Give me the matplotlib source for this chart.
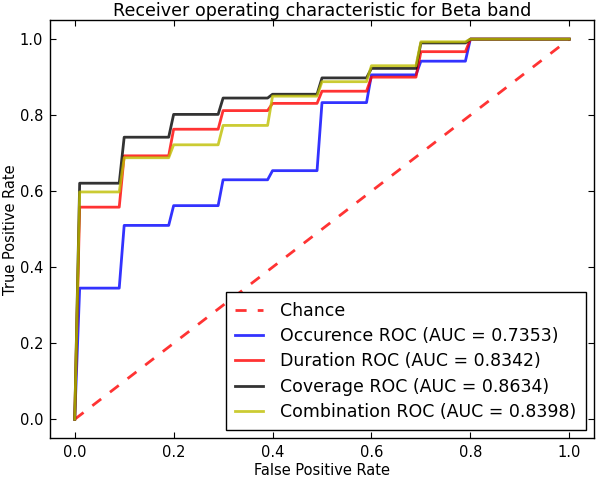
import matplotlib
matplotlib.use("Agg")
from matplotlib import pyplot as plt

# ROC points (fpr, tpr)
fpr = [0.0, 0.01, 0.09, 0.10, 0.19, 0.20, 0.29, 0.30, 0.39, 0.40,
       0.49, 0.50, 0.59, 0.60, 0.69, 0.70, 0.79, 0.80, 1.0]

tpr_occurence = [0.0, 0.345, 0.345, 0.51, 0.51, 0.562, 0.562, 0.63, 0.63, 0.654,
                 0.654, 0.833, 0.833, 0.906, 0.906, 0.942, 0.942, 1.0, 1.0]
tpr_duration = [0.0, 0.558, 0.558, 0.693, 0.693, 0.763, 0.763, 0.812, 0.812, 0.831,
                0.831, 0.863, 0.863, 0.90, 0.90, 0.967, 0.967, 1.0, 1.0]
tpr_coverage = [0.0, 0.621, 0.621, 0.742, 0.742, 0.802, 0.802, 0.845, 0.845, 0.855,
                0.855, 0.898, 0.898, 0.923, 0.923, 0.99, 0.99, 1.0, 1.0]
tpr_combination = [0.0, 0.598, 0.598, 0.688, 0.688, 0.722, 0.722, 0.773, 0.773, 0.85,
                   0.85, 0.888, 0.888, 0.93, 0.93, 0.993, 0.993, 1.0, 1.0]

auc_values = {"Occurence": 0.7353, "Duration": 0.8342,
              "Coverage": 0.8634, "Combination": 0.8398}

fig = plt.figure(figsize=(5.98, 4.79), dpi=100)
ax = fig.add_axes([0.0836, 0.0850, 0.9097, 0.8730])

ax.plot([0, 1], [0, 1], "--", color="r", lw=2, alpha=0.8, dashes=(4, 4), label="Chance")
curves = [("Occurence", tpr_occurence, "b"),
          ("Duration", tpr_duration, "r"),
          ("Coverage", tpr_coverage, "k"),
          ("Combination", tpr_combination, "y")]
for name, tpr, col in curves:
    ax.plot(fpr, tpr, color=col, lw=2, alpha=0.8,
            label=f"{name} ROC (AUC = {auc_values[name]:.4f})")

ax.set_xlim(-0.05, 1.05)
ax.set_ylim(-0.05, 1.05)
ax.set_xticks([0.0, 0.2, 0.4, 0.6, 0.8, 1.0])
ax.set_yticks([0.0, 0.2, 0.4, 0.6, 0.8, 1.0])
ax.tick_params(direction="in", top=True, right=True, length=4, labelsize=10.5, pad=5)
for sp in ax.spines.values():
    sp.set_linewidth(1.0)

ax.set_xlabel("False Positive Rate", fontsize=10.5, labelpad=2)
ax.set_ylabel("True Positive Rate", fontsize=10.5, labelpad=1)
ax.set_title("Receiver operating characteristic for Beta band", fontsize=12.6, pad=3)

leg = ax.legend(loc="lower right", fontsize=12.5, fancybox=False, framealpha=1,
                edgecolor="k", handlelength=1.6, handletextpad=1.0,
                borderpad=0.55, labelspacing=0.42, borderaxespad=0.45)
leg.get_frame().set_linewidth(1.0)

fig.savefig("out.png", dpi=100)
